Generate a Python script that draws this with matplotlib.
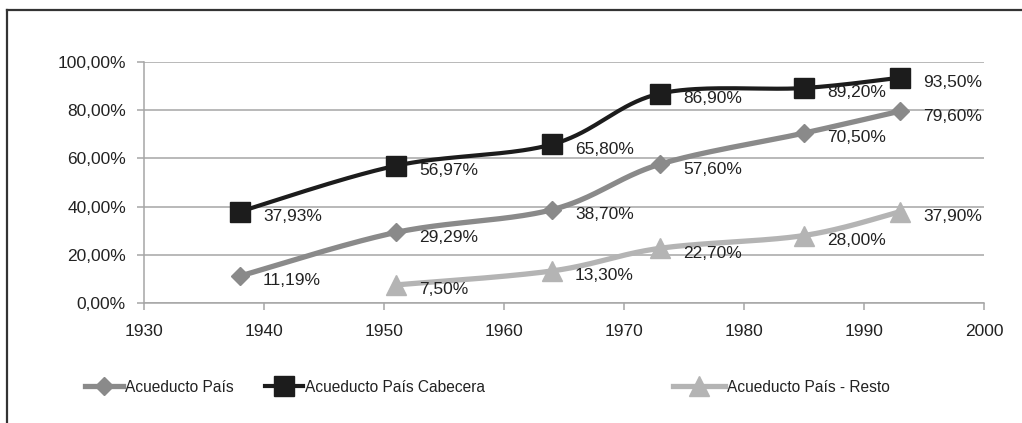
import numpy as np
import matplotlib.pyplot as plt
from matplotlib.lines import Line2D
from matplotlib.ticker import FuncFormatter

plt.rcParams['font.family'] = ['Liberation Sans', 'DejaVu Sans']
plt.rcParams['font.size'] = 12.5

# Cobertura de acueducto por censo
years = [1938, 1951, 1964, 1973, 1985, 1993]
pais = [11.19, 29.29, 38.70, 57.60, 70.50, 79.60]
cabecera = [37.93, 56.97, 65.80, 86.90, 89.20, 93.50]
years_resto = [1951, 1964, 1973, 1985, 1993]
resto = [7.50, 13.30, 22.70, 28.00, 37.90]

series_names = ['Acueducto País', 'Acueducto País Cabecera', 'Acueducto País - Resto']

TXT = '#222222'


def fmt_pct(v):
    return f'{v:.2f}'.replace('.', ',') + '%'


def smooth(xs, ys, sx=12.0, sy=241.0, n=40):
    # Catmull-Rom style bezier smoothing, done in screen-like units
    px = np.asarray(xs, float) * sx
    py = np.asarray(ys, float) / 100.0 * sy
    pts = np.column_stack([px, py])
    out = []
    for i in range(len(pts) - 1):
        p0 = pts[max(i - 1, 0)]
        p1 = pts[i]
        p2 = pts[i + 1]
        p3 = pts[min(i + 2, len(pts) - 1)]
        c1 = p1 + (p2 - p0) / 6.0
        c2 = p2 - (p3 - p1) / 6.0
        t = np.linspace(0, 1, n)[:, None]
        seg = ((1 - t) ** 3) * p1 + 3 * ((1 - t) ** 2) * t * c1 + 3 * (1 - t) * t ** 2 * c2 + t ** 3 * p2
        out.append(seg if i == 0 else seg[1:])
    seg = np.vstack(out)
    return seg[:, 0] / sx, seg[:, 1] / sy


fig = plt.figure(figsize=(10.22, 4.23), dpi=100)
ax = fig.add_axes([144 / 1022, (423 - 303) / 423, 840 / 1022, 241 / 423])

styles = [
    dict(color='#8a8a8a', marker='D', ms=8.8, lw=3.8),
    dict(color='#1c1c1c', marker='s', ms=14, lw=3.0),
    dict(color='#b4b4b4', marker='^', ms=14, lw=3.8),
]
data = [(years, pais), (years, cabecera), (years_resto, resto)]

for (xs, ys), st in zip(data, styles):
    cx, cy = smooth(xs, ys)
    ax.plot(cx, np.array(cy) * 100, color=st['color'], lw=st['lw'], zorder=3,
            solid_capstyle='butt')
    ax.plot(xs, ys, ls='none', marker=st['marker'], ms=st['ms'],
            color=st['color'], mec=st['color'], zorder=4)
    for x, y in zip(xs, ys):
        ax.annotate(fmt_pct(y), (x, y), xytext=(16.5, -3.5), textcoords='offset points',
                    ha='left', va='center', color=TXT, zorder=5)

ax.set_xlim(1930, 2000)
ax.set_ylim(0, 100)
ax.set_xticks(range(1930, 2001, 10))
ax.set_yticks(range(0, 101, 20))
ax.yaxis.set_major_formatter(FuncFormatter(lambda v, p: fmt_pct(v)))
ax.grid(axis='y', color='#a6a6a6', lw=1.1, zorder=1)
ax.set_axisbelow(True)
for side in ['top', 'right']:
    ax.spines[side].set_visible(False)
for side in ['left', 'bottom']:
    ax.spines[side].set_color('#a6a6a6')
    ax.spines[side].set_linewidth(1.1)
ax.tick_params(axis='both', direction='out', length=5, width=1.1, color='#a6a6a6',
               labelcolor=TXT)
ax.tick_params(axis='y', pad=8)
ax.tick_params(axis='x', pad=10)

# leyenda: tres entradas sueltas en la parte inferior
legend_x = [85, 265, 673]
handle_len = [2.45, 2.45, 3.35]
for name, st, lx, hl in zip(series_names, styles, legend_x, handle_len):
    h = Line2D([], [], color=st['color'], lw=st['lw'], marker=st['marker'],
               ms=st['ms'], mec=st['color'])
    fig.legend([h], [name], loc='center left', bbox_to_anchor=(lx / 1022, 1 - 387 / 423),
               frameon=False, borderpad=0, borderaxespad=0, handlelength=hl,
               handletextpad=0.15, labelcolor=TXT, fontsize=11.2)

# marco exterior (solo borde superior e izquierdo)
fig.add_artist(Line2D([7 / 1022, 1.0], [1 - 10 / 423, 1 - 10 / 423], color='#333333', lw=1.6))
fig.add_artist(Line2D([7 / 1022, 7 / 1022], [0, 1 - 10 / 423], color='#333333', lw=1.6))

fig.savefig('out.png', dpi=100)
